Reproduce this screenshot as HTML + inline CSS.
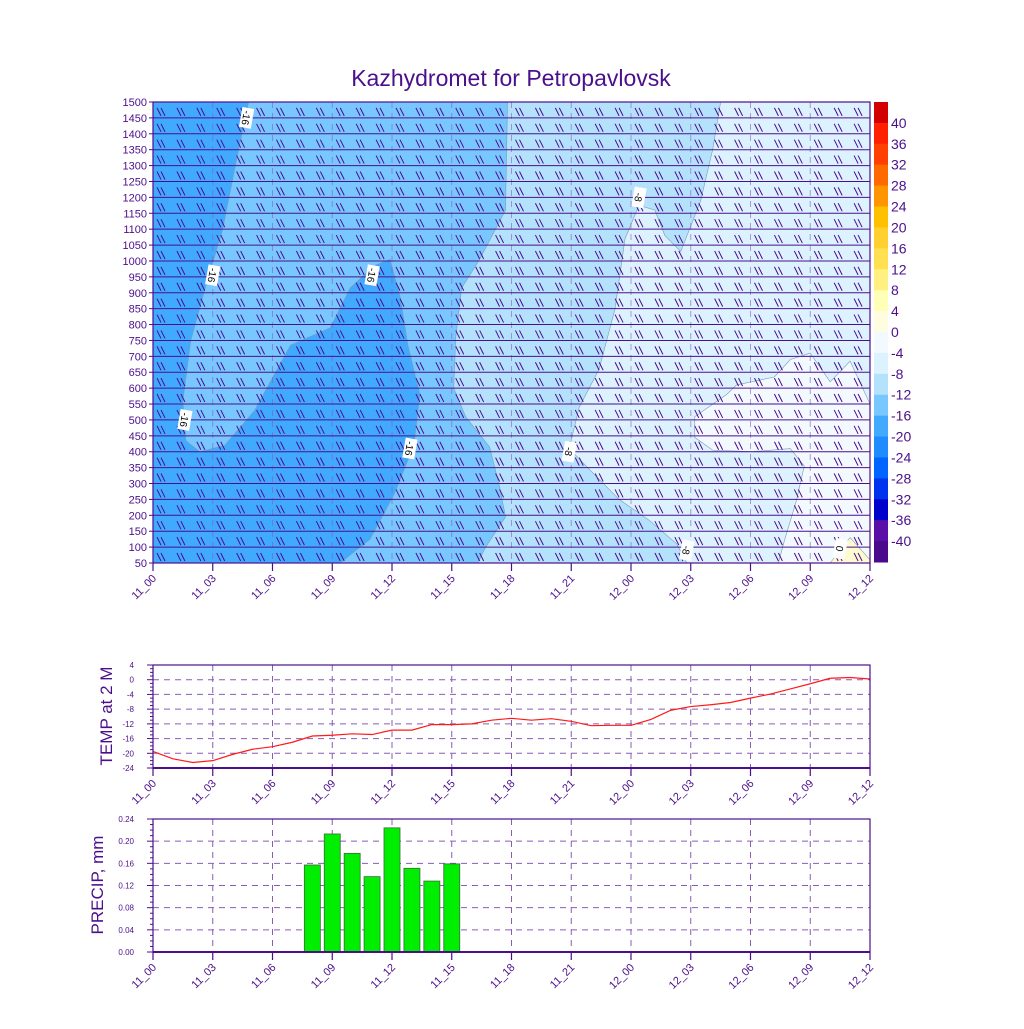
<!DOCTYPE html>
<html><head><meta charset="utf-8"><style>
body{margin:0;background:#fff}
svg text{font-family:"Liberation Sans",sans-serif;fill:#4b0f8c}
</style></head><body>
<svg id="s" width="1024" height="1024" xmlns="http://www.w3.org/2000/svg">
<text x="511" y="86" font-size="23" text-anchor="middle">Kazhydromet for Petropavlovsk</text>
</svg>
<script>
const hourLabels=["11_00","11_03","11_06","11_09","11_12","11_15","11_18","11_21","12_00","12_03","12_06","12_09","12_12"];
const heights=[50,100,150,200,250,300,350,400,450,500,550,600,650,700,750,800,850,900,950,1000,1050,1100,1150,1200,1250,1300,1350,1400,1450,1500];
const cbLabels=[40,36,32,28,24,20,16,12,8,4,0,-4,-8,-12,-16,-20,-24,-28,-32,-36,-40];
const cbColors=["#d20000","#ff2000","#ff4000","#ff6a00","#ff9600","#ffc000","#ffd030","#ffe050","#fff080","#ffffb8","#fffde0","#f2f9ff","#dcf2fe","#b4e2fc","#78c8ff","#41aaff","#1e8cff","#0066ff","#0033ee","#0000cc","#5a10a8","#4b0a8c"];
const tempVals=[-19.5,-21.5,-22.5,-22,-20.3,-18.9,-18.2,-17,-15.3,-15.1,-14.7,-14.9,-13.7,-13.7,-12.2,-12.2,-12,-11,-10.5,-11,-10.6,-11.3,-12.5,-12.4,-12.4,-10.8,-8.3,-7.3,-6.8,-6.2,-5,-3.9,-2.5,-1.1,0.4,0.6,0.2];
const tempTicks=[4,0,-4,-8,-12,-16,-20,-24];
const precipHours=[8,9,10,11,12,13,14,15];
const precipVals=[0.157,0.213,0.178,0.136,0.224,0.151,0.128,0.159];
const precipTicks=[0.24,0.20,0.16,0.12,0.08,0.04,0.00];
// contour regions as [hour, height] pairs
const regionBase=[[0,1500],[36,1500],[36,50],[0,50]];
const regionDark=[[0,1500],[4.8,1500],[4.2,1320],[3.5,1100],[2.6,910],[1.9,750],[1.5,560],[1.65,435],[2.35,400],[3.6,420],[5.1,530],[6.9,735],[8.9,790],[9.9,915],[11.1,985],[11.9,1005],[12.4,890],[12.8,735],[13.4,580],[13.1,420],[12.1,265],[10.9,125],[9.4,50],[0,50]];
const regionMid=[[17.8,1500],[17.7,1160],[16.4,1005],[15.5,915],[15.2,760],[15.1,600],[15.7,510],[16.9,415],[17.4,290],[17.7,195],[16.7,100],[16.3,50],[36,50],[36,1500]];
const regionLight=[[28.5,1500],[28.1,1350],[27.5,1190],[26.5,1030],[25.7,1080],[25.2,1160],[24.4,1175],[23.7,1070],[23.2,850],[22.4,660],[21.4,540],[20.9,410],[21.9,345],[23.4,250],[24.9,185],[26.3,110],[26.8,50],[36,50],[36,1500]];
const regionLighter=[[33,710],[34,620],[35,685],[36,550],[36,50],[31.4,50],[31.7,120],[32.3,245],[32.7,355],[32,410],[30.1,400],[28.1,405],[27.2,445],[27.2,510],[28.8,580],[29.3,610],[31.2,635],[32,690]];
const regionWarm=[[34,50],[35,130],[36,60],[36,50]];
const contourLabels=[["-16",4.7,1450],["-16",3,955],["-16",11,955],["-16",1.6,500],["-16",12.9,410],["-8",24.4,1200],["-8",20.9,400],["-8",26.8,90],["0",34.5,95]];
</script>
<script>
const S=document.getElementById('s');const NS='http://www.w3.org/2000/svg';
function mk(t,a,p){const e=document.createElementNS(NS,t);for(const k in a)e.setAttribute(k,a[k]);(p||S).appendChild(e);return e;}
const X0=153,X1=870;
const xs=h=>X0+(X1-X0)*h/36;
const ym=v=>563-(v-50)/1450*461;
const yt=v=>768-(v+24)/28*103;
const yp=v=>952-v/0.24*133;
const PUR='#4b0f8c';
function poly(pts,fill,name){const e=mk('polygon',{points:pts.map(p=>xs(p[0])+','+ym(p[1])).join(' '),fill:fill,stroke:'#7a9cb0','stroke-width':0.6});

}
poly(regionBase,'#78c8ff','region-minus16-minus12');
poly(regionDark,'#41aaff','region-minus20-minus16');
poly(regionMid,'#b4e2fc','region-minus12-minus8');
poly(regionLight,'#dcf2fe','region-minus8-minus4');
poly(regionLighter,'#f2f9ff','region-minus4-0');
poly(regionWarm,'#fffbd0','region-0-4');
// vertical dashed grid
hourLabels.forEach((l,i)=>{if(i>0&&i<12){const v=mk('line',{x1:xs(i*3),x2:xs(i*3),y1:102,y2:563,stroke:'#8a5cb8','stroke-dasharray':'6,5','stroke-width':1,'stroke-opacity':0.6});

}});
// wind barbs and level lines
const g=mk('g',{stroke:PUR,'stroke-width':1,fill:'none'});


let d='';
heights.forEach((hv,i)=>{const y=ym(hv);if(i>0&&i<heights.length-1)d+=`M${X0},${y}H${X1}`;
 if(i<heights.length-1){const yb=ym(hv)-2;for(let h=0;h<36;h++){const x=xs(h)+4;d+=`M${x},${yb-8}l4,8M${x+4},${yb-8}l4,8`;}}
});
mk('path',{d:d},g);
const fr=mk('rect',{x:X0,y:102,width:X1-X0,height:461,fill:'none',stroke:PUR,'stroke-width':1.2});


heights.forEach(hv=>{const t=mk('text',{x:147,y:ym(hv)+4,'font-size':11,'text-anchor':'end'});t.textContent=hv;


mk('line',{x1:X0-4,x2:X0,y1:ym(hv),y2:ym(hv),stroke:PUR});});
contourLabels.forEach(c=>{const x=xs(c[1]),y=ym(c[2]);const gg=mk('g',{transform:`translate(${x},${y}) rotate(100)`});


mk('rect',{x:-10,y:-6,width:20,height:12,fill:'#fff'},gg);const t=mk('text',{x:0,y:4,'font-size':10,'text-anchor':'middle'},gg);t.style.fill='#000';t.textContent=c[0];});
function xLabels(yAxis,name){hourLabels.forEach((l,i)=>{const x=xs(i*3);mk('line',{x1:x,x2:x,y1:yAxis,y2:yAxis+8,stroke:PUR,'stroke-width':1.2});
const t=mk('text',{x:x+4,y:yAxis+16,'font-size':11,'text-anchor':'end',transform:`rotate(-45 ${x+4} ${yAxis+16})`});t.textContent=l;

});}
xLabels(563,'main-x-tick-label');
const cbH=460/cbColors.length;
cbColors.forEach((c,i)=>{const r=mk('rect',{x:874,y:102+i*cbH,width:14,height:cbH+0.5,fill:c});

});
cbLabels.forEach((v,i)=>{const t=mk('text',{x:891,y:102+(i+1)*cbH+5,'font-size':14});t.textContent=v;

});
function panel(top,bot,ticks,yf,fmt,name){
 ticks.forEach(v=>{const y=yf(v);const l=mk('line',{x1:X0,x2:X1,y1:y,y2:y,stroke:'#8a5cb8','stroke-dasharray':'6,5'});
 
 
 mk('line',{x1:X0-6,x2:X0,y1:y,y2:y,stroke:PUR});
 const t=mk('text',{x:X0-19,y:y+3,'font-size':8,'text-anchor':'end'});t.textContent=fmt(v);
 
 });
 for(let i=0;i<ticks.length-1;i++){const a=yf(ticks[i]),b=yf(ticks[i+1]);for(let k=1;k<4;k++){const y=a+(b-a)*k/4;mk('line',{x1:X0-3,x2:X0,y1:y,y2:y,stroke:PUR});}}
 hourLabels.forEach((l,i)=>{if(i>0&&i<12){mk('line',{x1:xs(i*3),x2:xs(i*3),y1:top,y2:bot,stroke:'#8a5cb8','stroke-dasharray':'6,5'});}});
}
panel(665,768,tempTicks,yt,v=>v,'temp');
const tl=mk('polyline',{points:tempVals.map((v,i)=>xs(i)+','+yt(v)).join(' '),fill:'none',stroke:'#ff1a1a','stroke-width':1.2});


const tf=mk('rect',{x:X0,y:665,width:X1-X0,height:103,fill:'none',stroke:PUR,'stroke-width':1.2});


mk('line',{x1:X0,x2:X1,y1:768,y2:768,stroke:PUR,'stroke-width':2});
xLabels(768,'temp-x-tick-label');
const ty=mk('text',{x:0,y:0,'font-size':17,'text-anchor':'middle',transform:'translate(112,716) rotate(-90)'});ty.textContent='TEMP at 2 M';


panel(819,952,precipTicks,yp,v=>v.toFixed(2),'precip');
precipHours.forEach((h,i)=>{const v=precipVals[i];const b=mk('rect',{x:xs(h)-8,y:yp(v),width:16,height:yp(0)-yp(v),fill:'#00ee00',stroke:'#3a6a3a','stroke-width':0.8});

});
const pf=mk('rect',{x:X0,y:819,width:X1-X0,height:133,fill:'none',stroke:PUR,'stroke-width':1.2});


mk('line',{x1:X0,x2:X1,y1:952,y2:952,stroke:PUR,'stroke-width':2});
xLabels(952,'precip-x-tick-label');
const py=mk('text',{x:0,y:0,'font-size':17,'text-anchor':'middle',transform:'translate(103,885) rotate(-90)'});py.textContent='PRECIP, mm';


</script>
</body></html>
